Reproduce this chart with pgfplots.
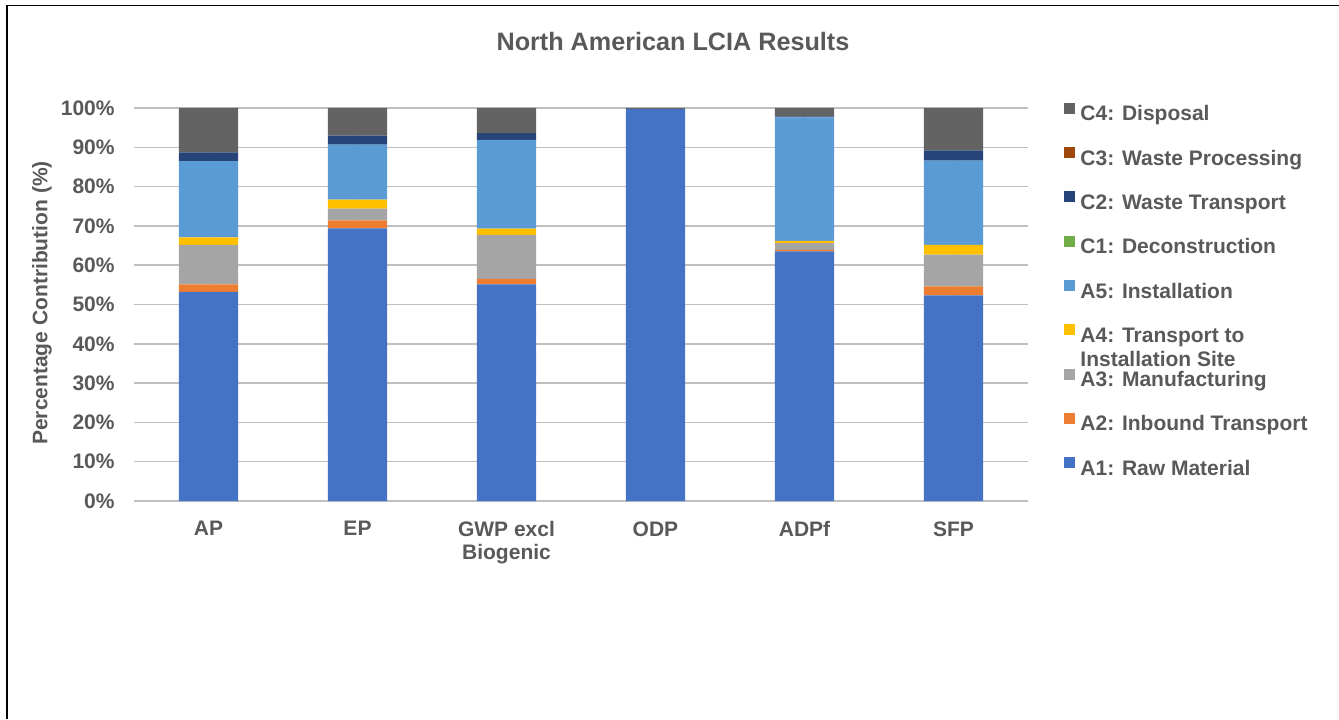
\documentclass[border=0pt]{standalone}
\usepackage{fontspec}
\setmainfont{Liberation Sans}
\usepackage{pgfplots}
\usepackage{pgfplotstable}
\pgfplotsset{compat=1.18}

\definecolor{cA1}{HTML}{4472C4}
\definecolor{cA2}{HTML}{ED7D31}
\definecolor{cA3}{HTML}{A5A5A5}
\definecolor{cA4}{HTML}{FFC000}
\definecolor{cA5}{HTML}{5B9BD5}
\definecolor{cC1}{HTML}{70AD47}
\definecolor{cC2}{HTML}{264478}
\definecolor{cC3}{HTML}{9E480E}
\definecolor{cC4}{HTML}{636363}
\definecolor{txt}{HTML}{595959}
\definecolor{grid}{HTML}{D9D9D9}

% contribution of each life-cycle stage, in percent
\pgfplotstableread{
x  A1   A2  A3   A4  A5   C1 C2  C3 C4
0  53.2 1.9 10.1 1.9 19.4 0  2.2 0  11.3
1  69.4 2.0 3.0  2.3 14.0 0  2.3 0  7.0
2  55.1 1.4 11.2 1.6 22.6 0  1.7 0  6.4
3  99.7 0   0    0   0    0  0   0  0.3
4  63.5 0.4 1.7  0.6 31.4 0  0.3 0  2.1
5  52.3 2.3 8.1  2.5 21.4 0  2.6 0  10.8
}\lcia

\begin{document}
\begin{tikzpicture}
\useasboundingbox (0,0) rectangle (669.5pt,359.5pt);
\draw[line width=0.8pt] (3.35pt,0) -- (3.35pt,356.75pt) -- (669.5pt,356.75pt);

\node[font=\fontsize{12.6}{14}\selectfont\bfseries, text=txt] at (336.5pt,339pt) {North American LCIA Results};
\node[font=\fontsize{10.5}{12}\selectfont\bfseries, text=txt, rotate=90] at (21pt,208pt) {Percentage Contribution (\%)};

\begin{axis}[
    at={(67pt,109pt)}, anchor=south west,
    scale only axis,
    width=447pt, height=196.5pt,
    ybar stacked,
    bar width=29.7pt,
    xmin=-0.5, xmax=5.5,
    ymin=0, ymax=100,
    xtick=data,
    xticklabels={AP,EP,{GWP excl\\Biogenic},ODP,ADPf,SFP},
    ytick={0,10,...,100},
    yticklabels={0\%,10\%,20\%,30\%,40\%,50\%,60\%,70\%,80\%,90\%,100\%},
    major tick length=0pt,
    axis line style={draw=none},
    ymajorgrids,
    grid style={grid, line width=0.75pt},
    ticklabel style={font=\fontsize{10.5}{11.5}\selectfont\bfseries, text=txt},
    yticklabel style={anchor=east, inner sep=0pt, xshift=-9.5pt},
    xticklabel style={anchor=north, inner sep=0pt, yshift=-10pt, align=center},
    reverse legend,
    legend cell align=left,
    legend style={
        at={(1.0403,1.014)}, anchor=north west,
        draw=none, fill=none, inner sep=0pt,
        row sep=10.65pt, column sep=2.5pt,
        font=\fontsize{10.5}{11.5}\selectfont\bfseries, text=txt,
        nodes={inner sep=0pt, text height=7.5pt, text depth=2.5pt},
    },
    legend image code/.code={\fill[#1] (0pt,1pt) rectangle (5.5pt,6.5pt);},
    every axis plot/.append style={draw=none},
]
\addplot[fill=cA1] table[x=x,y=A1] {\lcia};
\addlegendentry{A1: Raw Material}
\addplot[fill=cA2] table[x=x,y=A2] {\lcia};
\addlegendentry{A2: Inbound Transport}
\addplot[fill=cA3] table[x=x,y=A3] {\lcia};
\addlegendentry{A3: Manufacturing}
\addplot[fill=cA4] table[x=x,y=A4] {\lcia};
\addlegendentry{\smash{\begin{tabular}[t]{@{}l@{}}A4: Transport to\\[0.5pt]Installation Site\end{tabular}}}
\addplot[fill=cA5] table[x=x,y=A5] {\lcia};
\addlegendentry{A5: Installation}
\addplot[fill=cC1] table[x=x,y=C1] {\lcia};
\addlegendentry{C1: Deconstruction}
\addplot[fill=cC2] table[x=x,y=C2] {\lcia};
\addlegendentry{C2: Waste Transport}
\addplot[fill=cC3] table[x=x,y=C3] {\lcia};
\addlegendentry{C3: Waste Processing}
\addplot[fill=cC4] table[x=x,y=C4] {\lcia};
\addlegendentry{C4: Disposal}
\end{axis}
\end{tikzpicture}
\end{document}
